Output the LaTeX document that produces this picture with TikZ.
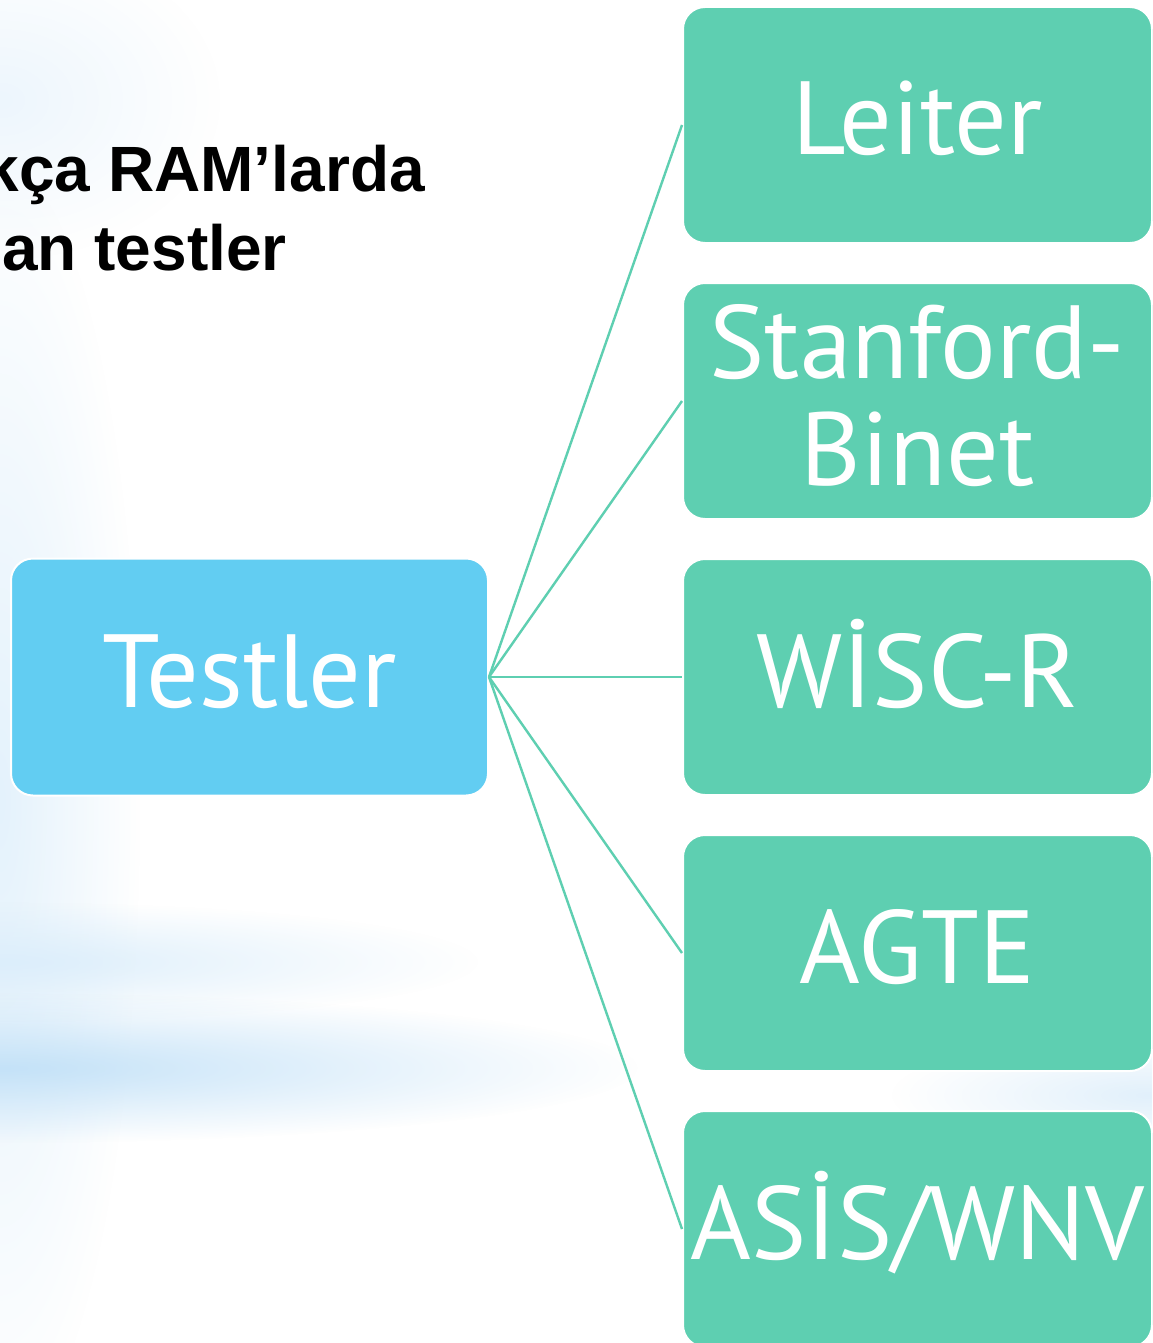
\documentclass[tikz,border=0pt]{standalone}
\usepackage{fontspec}
\setmainfont{PT Sans}
\newfontfamily\headfont{Liberation Sans}
\usetikzlibrary{positioning,fadings}
\definecolor{boxgreen}{RGB}{94,207,177}
\definecolor{boxblue}{RGB}{98,205,242}
\definecolor{haze}{RGB}{196,226,248}
\tikzfading[name=softblob, inner color=transparent!0, outer color=transparent!100]
\tikzset{
  testbox/.style={rectangle, rounded corners=22pt, fill=boxgreen, draw=white, line width=2pt,
    minimum width=469pt, minimum height=236pt, text=white, align=center,
    text height=74pt, text depth=14pt, font=\fontsize{104}{107}\selectfont},
  rootbox/.style={testbox, fill=boxblue, minimum width=477pt, minimum height=237pt},
  headtext/.style={anchor=base east, inner sep=0pt, font=\headfont\bfseries\fontsize{64}{78}\selectfont},
  link/.style={boxgreen, line width=2.4pt}
}
\begin{document}
\begin{tikzpicture}[x=1pt,y=-1pt]
\clip (0,0) rectangle (1152,1343);

%Shape: background haze
\fill[white] (0,0) rectangle (1152,1343);
\fill[haze!45, path fading=softblob] (0,800) ellipse (140 and 640);
\fill[haze!30, path fading=softblob] (0,100) ellipse (220 and 160);
\fill[haze!60, path fading=softblob] (0,962) ellipse (480 and 60);
\fill[haze, path fading=softblob] (0,1068) ellipse (640 and 75);
\fill[haze!50, path fading=softblob] (1152,1095) ellipse (260 and 60);

% Text Node
\node[headtext] (headA) at (425,192) {kça RAM’larda};
% Text Node
\node[headtext] (headB) at (287,270) {an testler};

% Boxes
\node[testbox] (leiter) at (917.5,125) {Leiter};
\node[testbox, below=38pt of leiter, text height=182pt, text depth=14pt] (stanford) {Stanford-\\Binet};
\node[testbox, below=38pt of stanford] (wiscr) {WİSC-R};
\node[testbox, below=38pt of wiscr] (agte) {AGTE};
\node[testbox, below=38pt of agte] (asis) {ASİS/WNV};
\node[rootbox, left=193pt of wiscr] (testler) {Testler};

%Straight Lines
\foreach \b in {leiter,stanford,wiscr,agte,asis}
  \draw[link] (testler.east) -- (\b.west);

\end{tikzpicture}
\end{document}
